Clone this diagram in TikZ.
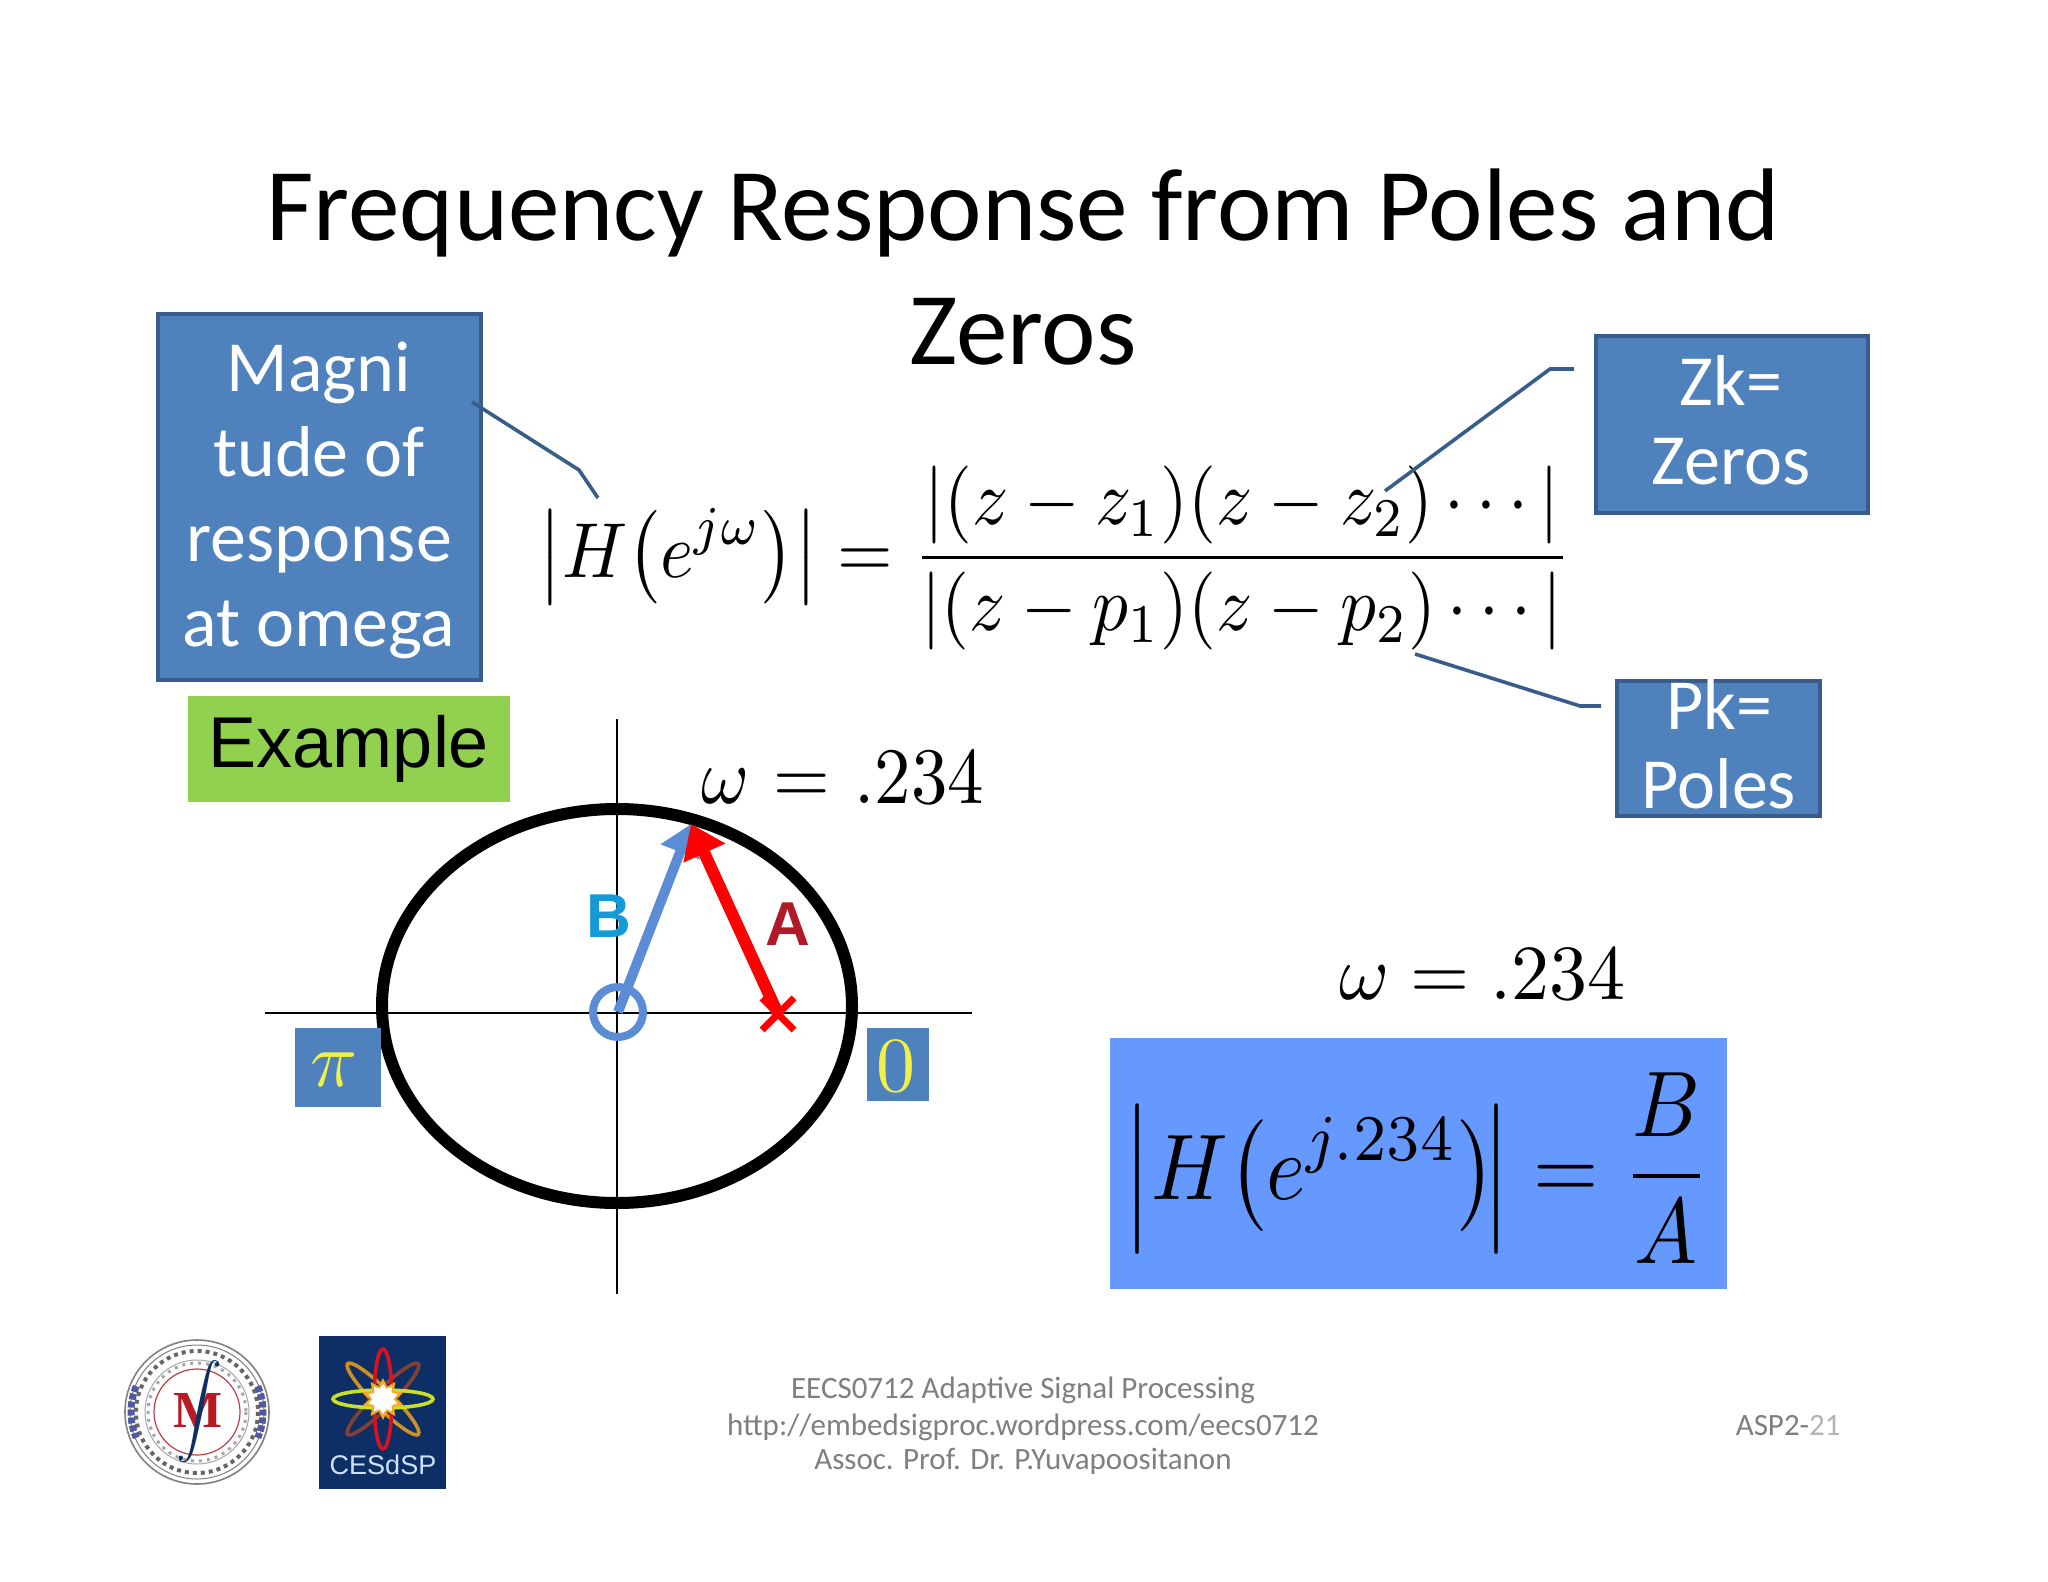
\documentclass[tikz,border=0pt]{standalone}
\usepackage{fontspec}
\usepackage{graphicx}
\usepackage{amsmath}
\setmainfont{Carlito}
\newfontfamily\arialf{Liberation Sans}
\usetikzlibrary{arrows.meta,shapes.geometric}
\definecolor{boxblue}{HTML}{4F81BD}
\definecolor{boxedge}{HTML}{385D8A}
\definecolor{lightblue}{HTML}{6699FF}
\definecolor{exgreen}{HTML}{92D050}
\definecolor{footgrey}{HTML}{7F7F7F}
\definecolor{navy}{HTML}{0E2F66}
\definecolor{markyellow}{RGB}{240,240,70}
\definecolor{vecblue}{RGB}{91,141,214}
\definecolor{labB}{RGB}{20,155,215}
\definecolor{labA}{RGB}{175,25,40}
\definecolor{sealred}{RGB}{185,25,35}
\definecolor{sealblue}{RGB}{80,90,160}
\definecolor{orbA}{RGB}{205,145,35}
\definecolor{orbB}{RGB}{130,65,50}
\definecolor{orbC}{RGB}{215,20,30}
\definecolor{orbD}{RGB}{200,225,40}
\definecolor{starO}{RGB}{245,170,40}
\definecolor{cestext}{RGB}{205,225,250}
\newcommand{\fs}[2]{\fontsize{#1}{#2}\selectfont}
\newcommand{\shortbar}{\scalebox{1}[.88]{$\Bigl|$}}
\tikzset{
  calloutbox/.style={draw=boxedge,line width=2pt,fill=boxblue},
  callouttext/.style={text=white,align=center,inner sep=0pt},
  leader/.style={draw=boxedge,line width=1.8pt},
  axisline/.style={draw=black,line width=1pt},
  foot/.style={text=footgrey,inner sep=0pt,anchor=base,font=\fs{15.5}{18}},
  swatch/.style={fill=boxblue,draw=none},
  orbit/.style={draw=#1,line width=1.8pt,fill=none,ellipse,minimum width=50pt,minimum height=9pt,inner sep=0pt},
}
\begin{document}
\begin{tikzpicture}[x=0.5pt,y=-0.5pt]
\useasboundingbox (0,0) rectangle (2048,1582);
\fill[white] (0,0) rectangle (2048,1582);

% title
\node[inner sep=0pt,align=center,anchor=north,font=\fs{51.6}{62}] (title) at (1023,168) {Frequency Response from Poles and\\Zeros};

% callout boxes
\draw[calloutbox] (158,314) rectangle (481,680);
\node[callouttext,font=\fs{36}{42.5}] (magni) at (319,500) {Magni\\tude of\\response\\at omega};
\draw[calloutbox] (1596,336) rectangle (1868,513);
\node[callouttext,font=\fs{36}{39.5}] (zk) at (1731,420) {Zk=\\Zeros};
\draw[calloutbox] (1617,681) rectangle (1820,816);
\node[callouttext,font=\fs{36}{39.5}] (pk) at (1719,744) {Pk=\\Poles};

% main formula
\node[inner sep=0pt] (formula) at (1055,558) {\scalebox{3.57}[3.9]{$\displaystyle \left|H\!\left(e^{j\omega}\right)\right| = \frac{\left|(z-z_1)(z-z_2)\cdots\right|}{\left|(z-p_1)(z-p_2)\cdots\right|}$}};

% leaders
\coordinate (m1) at (472,402); \coordinate (m2) at (579,470); \coordinate (m3) at (598,498);
\draw[leader] (m1) -- (m2) -- (m3);
\coordinate (z1) at (1574,369); \coordinate (z2) at (1550,369); \coordinate (z3) at (1385,491);
\draw[leader] (z1) -- (z2) -- (z3);
\coordinate (p1) at (1601,706); \coordinate (p2) at (1580,706); \coordinate (p3) at (1415,654);
\draw[leader] (p1) -- (p2) -- (p3);

% example
\fill[exgreen] (188,696) rectangle (510,802);
\node[inner sep=0pt,font=\arialf\fs{36}{40}] (example) at (349,749) {Example};

% unit circle
\coordinate (axL) at (265,1013); \coordinate (axR) at (972,1013);
\coordinate (axT) at (617,719);  \coordinate (axB) at (617,1294);
\draw[axisline] (axL) -- (axR);
\draw[axisline] (axT) -- (axB);
\node[draw=black,line width=6pt,ellipse,minimum width=235pt,minimum height=197pt,inner sep=0pt] (ucircle) at (617,1006) {};

% pi and 0
\fill[swatch] (295,1028) rectangle (381,1107);
\node[inner sep=0pt,text=markyellow] (pi) at (334,1070) {\scalebox{3.9}{$\pi$}};
\fill[swatch] (867,1028) rectangle (929,1101);
\node[inner sep=0pt,text=markyellow] (zero) at (896,1066) {\scalebox{3.9}{$0$}};

% zero, pole, vectors
\node[draw=vecblue,line width=4pt,circle,minimum size=25pt,inner sep=0pt] (zz) at (618,1012) {};
\coordinate (tip) at (691,824);
\coordinate (pole) at (778,1014);
\draw[line width=5pt,draw=vecblue,-{Triangle[length=15pt,width=20pt]}] (zz.center) -- (tip);
\draw[line width=6pt,draw=red,-{Triangle[length=16pt,width=22pt]}] (pole) -- (tip);
\draw[line width=3.5pt,draw=red] (762,1030) -- (794,998) (762,998) -- (794,1030);
\node[inner sep=0pt,text=labB,font=\arialf\bfseries\fs{31}{36}] (lb) at (609,916) {B};
\node[inner sep=0pt,text=labA,font=\arialf\bfseries\fs{31}{36}] (la) at (788,924) {A};

% omega labels
\node[inner sep=0pt,anchor=base west] (w1) at (701,803) {\scalebox{3.64}[4]{$\omega\mskip1mu=\mskip1mu.234$}};
\node[inner sep=0pt,anchor=base west] (w2) at (1339,999) {\scalebox{3.8}[3.9]{$\omega=.234$}};

% blue result box
\fill[lightblue] (1110,1038) rectangle (1727,1289);
\node[inner sep=0pt] (result) at (1417,1168) {\scalebox{4.2}[4.66]{$\displaystyle \mathopen{\shortbar} H\!\left(e^{j.234}\right)\!\mathclose{\shortbar} = \frac{B}{A}$}};

% footer
\node[foot] (f1) at (1023,1398) {EECS0712 Adaptive Signal Processing};
\node[foot] (f2) at (1023,1435) {http://embedsigproc.wordpress.com/eecs0712};
\node[foot] (f3) at (1023,1469) {Assoc. Prof. Dr. P.Yuvapoositanon};
\node[foot,anchor=base east] (f4) at (1841,1435) {ASP2-{\color{footgrey!60}21}};

% left seal
\begin{scope}[shift={(197,1412)}]
\draw[gray,line width=0.8pt] (0,0) circle[radius=72];
\draw[gray,line width=0.5pt] (0,0) circle[radius=67];
\draw[gray!80!black,line width=2pt,dash pattern=on 2pt off 2pt] (0,0) circle[radius=61];
\draw[gray!70,line width=0.5pt] (0,0) circle[radius=52];
\draw[gray!70,line width=1.5pt,dash pattern=on 1.5pt off 2.5pt] (0,0) circle[radius=49];
\draw[red!50!gray,line width=0.6pt] (0,0) circle[radius=43];
\draw[sealblue,line width=3.5pt,dash pattern=on 3pt off 1pt] (203:66) arc[start angle=203,end angle=157,radius=66];
\draw[sealblue,line width=3.5pt,dash pattern=on 3pt off 1pt] (-23:66) arc[start angle=-23,end angle=23,radius=66];
\node[inner sep=0pt,text=sealred,font=\fontspec{Liberation Serif}\bfseries\fs{26}{28}] (mlogo) at (1,-2) {M};
\node[inner sep=0pt,text=navy] (ilogo) at (2,0) {\scalebox{2.3}{$\displaystyle\int$}};
\end{scope}

% right logo
\fill[navy] (319,1336) rectangle (446,1489);
\node[orbit=orbA,rotate=-45] (o1) at (383,1399) {};
\node[orbit=orbB,rotate=45] (o2) at (383,1399) {};
\node[orbit=orbC,rotate=90] (o3) at (383,1399) {};
\node[orbit=orbD] (o4) at (383,1399) {};
\node[star,star points=10,star point ratio=1.6,fill=starO,minimum size=21pt,inner sep=0pt] (s1) at (383,1399) {};
\node[star,star points=10,star point ratio=1.4,fill=white,minimum size=15pt,inner sep=0pt] (s2) at (383,1399) {};
\node[inner sep=0pt,text=cestext,font=\arialf\fs{13.5}{16}] (ces) at (383,1465) {CESdSP};
\end{tikzpicture}
\end{document}
